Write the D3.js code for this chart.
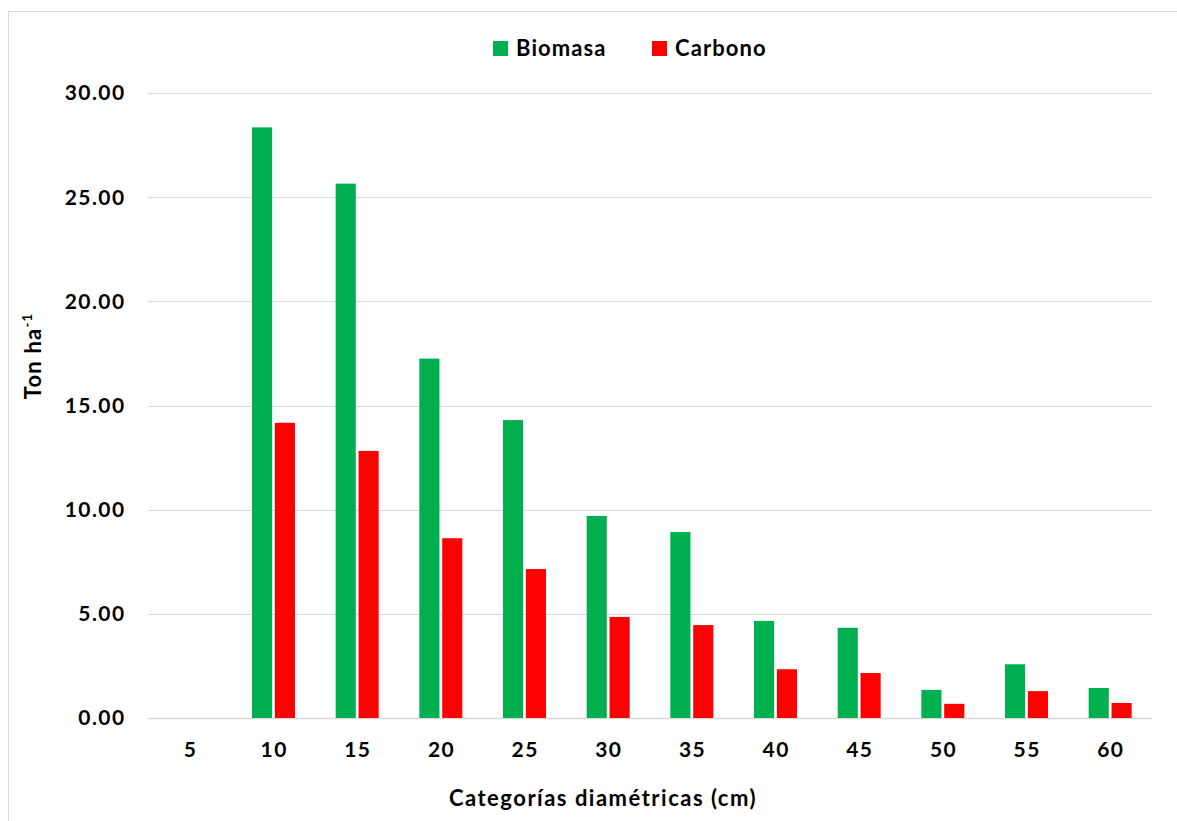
<!DOCTYPE html>
<html>
<head>
<meta charset="utf-8">
<script src="https://cdn.jsdelivr.net/npm/d3@7"></script>
<style>
  html, body { margin: 0; padding: 0; background: #fff; }
  svg { display: block; font-family: Lato, "Open Sans", sans-serif; font-weight: 700; }
</style>
</head>
<body>
<svg id="chart" width="1177" height="821"></svg>
<script>
// Diameter classes (cm)
const categories = ["5", "10", "15", "20", "25", "30", "35", "40", "45", "50", "55", "60"];
// Biomass and carbon per class (Ton ha-1)
const biomasa = [0, 28.35, 25.65, 17.25, 14.30, 9.70, 8.93, 4.66, 4.33, 1.35, 2.58, 1.44];
const carbono = [0, 14.17, 12.82, 8.63, 7.15, 4.85, 4.46, 2.34, 2.16, 0.68, 1.29, 0.72];
const yTicks = [0, 5, 10, 15, 20, 25, 30];
const seriesNames = ["Biomasa", "Carbono"];
const seriesColors = ["#00b050", "#ff0000"];

const svg = d3.select("#chart");
const plot = { left: 148, right: 1152, top: 93, bottom: 718 };

// chart frame
svg.append("rect")
  .attr("x", 8.5).attr("y", 11.5)
  .attr("width", 1200).attr("height", 900)
  .attr("fill", "#fff").attr("stroke", "#d9d9d9").attr("stroke-width", 1);

const x0 = d3.scaleBand().domain(categories).range([plot.left, plot.right]).paddingInner(0).paddingOuter(0);
const x1 = d3.scaleBand().domain(seriesNames).range([0, 43]).paddingInner(0.12);
const y = d3.scaleLinear().domain([0, 30]).range([plot.bottom, plot.top]);

// horizontal gridlines
svg.append("g").selectAll("line").data(yTicks).join("line")
  .attr("x1", plot.left).attr("x2", plot.right)
  .attr("y1", d => Math.round(y(d)) + 0.5).attr("y2", d => Math.round(y(d)) + 0.5)
  .attr("stroke", "#d9d9d9").attr("stroke-width", d => d === 0 ? 1.5 : 1);

// y tick labels
svg.append("g").selectAll("text").data(yTicks).join("text")
  .attr("x", 125.5).attr("y", d => y(d))
  .attr("dy", "0.35em")
  .attr("text-anchor", "end")
  .attr("font-size", 21)
  .attr("letter-spacing", 1.4)
  .attr("fill", "#000")
  .text(d => d3.format(".2f")(d));

// x tick labels
svg.append("g").selectAll("text").data(categories).join("text")
  .attr("x", d => x0(d) + x0.bandwidth() / 2 + 0.7)
  .attr("y", 750)
  .attr("dy", "0.35em")
  .attr("text-anchor", "middle")
  .attr("font-size", 21)
  .attr("letter-spacing", 1.4)
  .attr("fill", "#000")
  .text(d => d);

// bars
const rows = categories.map((c, i) => ({ c, vals: [biomasa[i], carbono[i]] }));
const groupOffset = (x0.bandwidth() - 43) / 2;
const g = svg.append("g").selectAll("g").data(rows).join("g")
  .attr("transform", d => `translate(${x0(d.c) + groupOffset},0)`);
g.selectAll("rect").data(d => d.vals.map((v, k) => ({ v, k })).filter(e => e.v > 0)).join("rect")
  .attr("x", e => x1(seriesNames[e.k]))
  .attr("width", x1.bandwidth())
  .attr("y", e => y(e.v))
  .attr("height", e => y(0) - y(e.v))
  .attr("fill", e => seriesColors[e.k]);

// legend
const legendItems = [
  { name: "Biomasa", color: seriesColors[0], x: 493 },
  { name: "Carbono", color: seriesColors[1], x: 652 }
];
const lg = svg.append("g").selectAll("g").data(legendItems).join("g")
  .attr("transform", d => `translate(${d.x},41)`);
lg.append("rect").attr("width", 15).attr("height", 15).attr("fill", d => d.color);
lg.append("text").attr("x", 23).attr("y", 7.5).attr("dy", "0.35em")
  .attr("font-size", 22).attr("letter-spacing", 1.1).attr("fill", "#000").text(d => d.name);

// axis titles
svg.append("text")
  .attr("x", 603).attr("y", 798).attr("dy", "0.35em")
  .attr("text-anchor", "middle").attr("font-size", 22).attr("letter-spacing", 1.5).attr("fill", "#000")
  .text("Categorías diamétricas (cm)");

const yt = svg.append("text")
  .attr("transform", "translate(41,356) rotate(-90)")
  .attr("text-anchor", "middle").attr("font-size", 22).attr("letter-spacing", 1.2).attr("fill", "#000");
yt.append("tspan").text("Ton ha");
yt.append("tspan").attr("font-size", 13).attr("dy", "-9").text("-1");
</script>
</body>
</html>
